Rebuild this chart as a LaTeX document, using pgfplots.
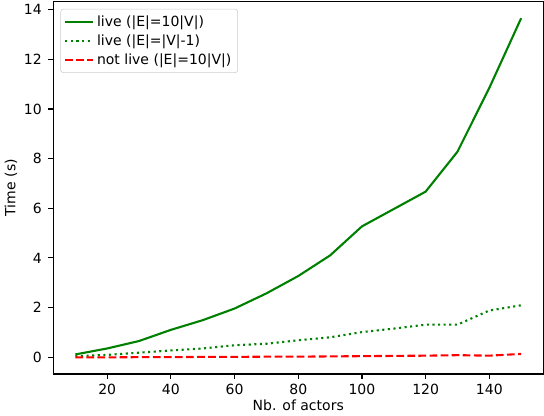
\documentclass[border=0pt]{standalone}
\usepackage{fontspec}
\setmainfont{DejaVu Sans}
\usepackage{pgfplots}
\pgfplotsset{compat=1.18}
\definecolor{mplgreen}{rgb}{0,0.5,0}
\definecolor{mplred}{rgb}{1,0,0}

\begin{document}
\begin{tikzpicture}
  \begin{axis}[
    width=350pt, height=266pt,
    scale only axis,
    xmin=3, xmax=157,
    ymin=-0.68, ymax=14.34,
    xtick={20,40,...,140},
    ytick={0,2,...,14},
    xlabel={Nb. of actors},
    ylabel={Time (s)},
    /pgf/number format/assume math mode=true,
    tick align=outside,
    tick pos=left,
    major tick length=3.5pt,
    every tick/.style={black, line width=0.8pt},
    axis line style={line width=0.8pt},
    ticklabel style={font=\fontsize{10}{12}\selectfont},
    yticklabel style={xshift=-1pt},
    label style={font=\fontsize{10}{12}\selectfont},
    xlabel style={yshift=3pt},
    ylabel style={yshift=-2pt},
    legend cell align=left,
    legend style={
      at={(0.015,0.98)}, anchor=north west,
      draw=black!20, rounded corners=2pt,
      fill=white, fill opacity=0.8, text opacity=1,
      font=\fontsize{10}{12}\selectfont,
      inner sep=2.5pt, row sep=0.5pt,
    },
    legend image code/.code={
      \draw[#1] plot coordinates {(0cm,0cm) (0.7cm,0cm)};
    },
  ]
    \addplot[mplgreen, line width=1.5pt] coordinates {
      (10,0.11)(20,0.35)(30,0.65)(40,1.10)(50,1.49)(60,1.96)(70,2.57)
      (80,3.27)(90,4.10)(100,5.27)(110,5.97)(120,6.67)(130,8.28)(140,10.85)(150,13.66)
    };
    \addlegendentry{live (|E|=10|V|)}
    \addplot[mplgreen, line width=1.5pt, dash pattern=on 1.5pt off 2.5pt] coordinates {
      (10,0.04)(20,0.09)(30,0.18)(40,0.27)(50,0.35)(60,0.48)(70,0.54)
      (80,0.68)(90,0.80)(100,1.01)(110,1.15)(120,1.31)(130,1.31)(140,1.88)(150,2.09)
    };
    \addlegendentry{live (|E|=|V|-1)}
    \addplot[mplred, line width=1.5pt, dash pattern=on 5.5pt off 2.4pt] coordinates {
      (10,-0.01)(20,-0.01)(30,0.00)(40,0.00)(50,0.01)(60,0.01)(70,0.02)
      (80,0.02)(90,0.03)(100,0.04)(110,0.05)(120,0.06)(130,0.08)(140,0.06)(150,0.13)
    };
    \addlegendentry{not live (|E|=10|V|)}
  \end{axis}
\end{tikzpicture}
\end{document}
